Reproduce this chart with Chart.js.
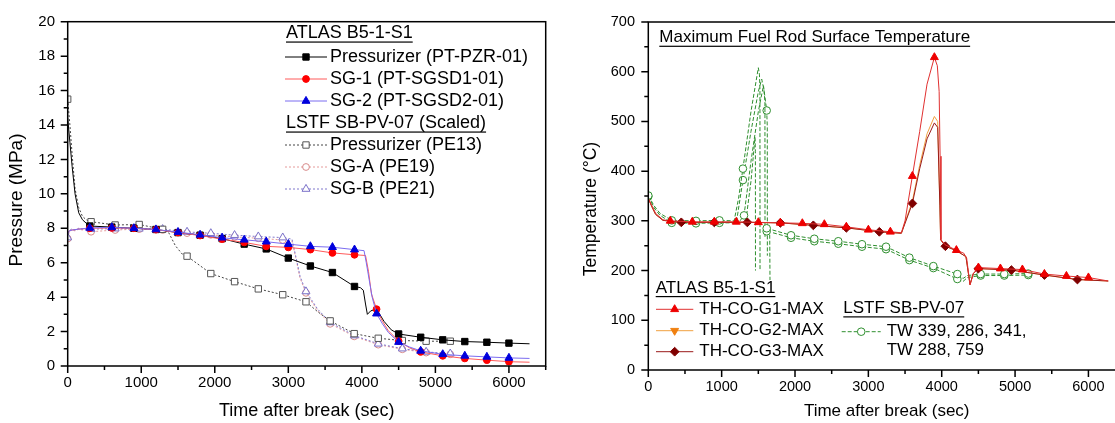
<!DOCTYPE html>
<html>
<head>
<meta charset="utf-8">
<script src="https://cdn.jsdelivr.net/npm/chart.js@4.4.1/dist/chart.umd.min.js"></script>
<style>
  html, body { margin: 0; padding: 0; background: #fff; overflow: hidden; width: 1115px; height: 423px; }
  #pressChart { position: absolute; left: 0; top: 0; }
  #tempChart { position: absolute; left: 560px; top: 0; }
</style>
</head>
<body>
<canvas id="pressChart" width="560" height="423"></canvas>
<canvas id="tempChart" width="600" height="423"></canvas>
<script>
// ---- left panel: pressure (MPa) vs time (s) ----
const pzrAtlasT = [0, 30, 60, 100, 150, 200, 250, 300, 600, 900, 1200, 1500, 1800, 2100, 2400, 2700, 3000, 3300, 3600, 3900, 3980, 4020, 4050, 4075, 4120, 4200, 4300, 4400, 4500, 4800, 5100, 5400, 5700, 6000, 6280];
const pzrAtlasP = [14.4, 13.0, 11.6, 10.0, 8.9, 8.5, 8.3, 8.13, 8.07, 8.0, 7.93, 7.75, 7.6, 7.4, 7.08, 6.8, 6.27, 5.81, 5.43, 4.62, 4.55, 4.4, 3.6, 3.0, 3.2, 3.32, 2.6, 2.1, 1.86, 1.67, 1.52, 1.42, 1.38, 1.33, 1.29];
const pzrAtlasMarks = [300, 600, 900, 1200, 1500, 1800, 2100, 2400, 2700, 3000, 3300, 3600, 3900, 4500, 4800, 5100, 5400, 5700, 6000];

const sg1T = [0, 20, 60, 150, 300, 600, 900, 1200, 1500, 1800, 2100, 2400, 2700, 3000, 3300, 3600, 3900, 4050, 4090, 4130, 4200, 4280, 4360, 4500, 4650, 4800, 5100, 5400, 5700, 6000, 6280];
const sg1P = [7.7, 7.85, 7.9, 7.95, 8.0, 8.02, 8.0, 7.92, 7.75, 7.58, 7.37, 7.18, 6.95, 6.89, 6.76, 6.57, 6.46, 6.42, 5.5, 4.2, 3.3, 2.6, 2.05, 1.45, 1.05, 0.82, 0.59, 0.44, 0.34, 0.25, 0.22];
const sg1Marks = [300, 600, 900, 1200, 1500, 1800, 2100, 2400, 2700, 3000, 3300, 3600, 3900, 4200, 4500, 4800, 5100, 5400, 5700, 6000];

const sg2T = [0, 20, 60, 150, 300, 600, 900, 1200, 1500, 1800, 2100, 2400, 2700, 3000, 3300, 3600, 3900, 4030, 4060, 4100, 4140, 4200, 4280, 4360, 4500, 4650, 4800, 5100, 5400, 5700, 6000, 6280];
const sg2P = [7.7, 7.85, 7.9, 7.95, 8.02, 8.05, 8.0, 7.93, 7.78, 7.62, 7.45, 7.33, 7.22, 7.08, 6.95, 6.9, 6.76, 6.7, 6.0, 5.0, 4.0, 3.04, 2.45, 1.95, 1.39, 1.1, 0.88, 0.68, 0.59, 0.53, 0.47, 0.44];
const sg2Marks = sg1Marks;

const pe13T = [0, 30, 60, 100, 150, 200, 250, 318, 645, 972, 1291, 1373, 1464, 1555, 1623, 1946, 2269, 2592, 2924, 3240, 3400, 3569, 3896, 4223, 4550, 4874, 5202, 5250];
const pe13P = [15.5, 14.0, 12.3, 10.3, 9.2, 8.7, 8.5, 8.38, 8.19, 8.22, 7.94, 7.75, 6.99, 6.51, 6.38, 5.37, 4.9, 4.48, 4.14, 3.73, 3.15, 2.62, 1.88, 1.61, 1.48, 1.44, 1.44, 1.43];
const lstfMarks = [0, 318, 645, 972, 1291, 1623, 1946, 2269, 2592, 2924, 3240, 3569, 3896, 4223, 4550, 4874, 5202];

const sgABT = [0, 20, 50, 100, 150, 200, 250, 318, 645, 972, 1291, 1623, 1946, 2269, 2592, 2924, 3050, 3100, 3160, 3240, 3400, 3569, 3896, 4223, 4550, 4874, 5202, 5250];
const sgAP = [7.4, 7.8, 7.9, 7.85, 7.95, 7.9, 7.95, 7.8, 7.9, 7.95, 7.9, 7.72, 7.62, 7.5, 7.42, 7.32, 7.26, 6.3, 5.1, 4.25, 3.2, 2.45, 1.72, 1.24, 0.97, 0.78, 0.68, 0.67];
const sgBP = [7.46, 7.85, 7.95, 7.9, 8.0, 7.95, 8.0, 7.95, 7.98, 7.97, 7.95, 7.79, 7.71, 7.6, 7.52, 7.46, 7.37, 6.4, 5.2, 4.33, 3.3, 2.53, 1.77, 1.29, 1.01, 0.82, 0.72, 0.71];

// ---- right panel: temperature (C) vs time (s) ----
const g1T = [0, 50, 100, 200, 300, 600, 900, 1200, 1500, 1800, 2100, 2400, 2700, 3000, 3300, 3450, 3500, 3600, 3700, 3800, 3900, 3940, 3965, 3978, 3990, 4045, 4200, 4300, 4340, 4386, 4431, 4500, 4800, 5100, 5400, 5700, 6000, 6270];
const g1V = [345, 330, 315, 302, 300, 298, 298, 298, 297, 296, 295, 293, 288, 282, 278, 276, 300, 390, 480, 575, 629, 612, 560, 430, 262, 252, 241, 235, 225, 171, 194, 206, 204, 202, 193, 189, 186, 179];
const g1Marks = [300, 600, 900, 1200, 1500, 1800, 2100, 2400, 2700, 3000, 3300, 3600, 3900, 4200, 4500, 4800, 5100, 5400, 5700, 6000];

const g3T = [0, 50, 100, 200, 450, 900, 1350, 1800, 2250, 2700, 3150, 3450, 3600, 3700, 3800, 3900, 3945, 3975, 3985, 4050, 4200, 4330, 4386, 4430, 4500, 4950, 5400, 5850, 6270];
const g2V = [345, 328, 313, 301, 297, 297, 297, 296, 291, 286, 278, 275, 340, 412, 475, 510, 500, 330, 262, 249, 240, 228, 172, 194, 204, 201, 191, 182, 179];
const g3V = [345, 328, 313, 301, 297, 297, 297, 296, 291, 286, 278, 275, 335, 405, 465, 497, 488, 330, 262, 249, 240, 228, 172, 194, 204, 201, 191, 182, 179];
const g3Marks = [450, 900, 1350, 1800, 2250, 2700, 3150, 3600, 4050, 4500, 4950, 5400, 5850];

const twAT = [0, 80, 160, 320, 650, 970, 1170, 1230, 1290, 1400, 1500, 1515, 1522, 1523, 1560, 1614, 1946, 2263, 2590, 2913, 3241, 3559, 3886, 4213, 4290, 4350, 4531, 4853, 5180, 5230];
const twAV = [351, 330, 315, 301, 300, 301, 300, 345, 405, 520, 608, 595, 565, 200, null, 285, 271, 264, 259, 253, 248, 226, 209, 193, 184, 190, 193, 193, 194, 193];
const twBT = [0, 80, 160, 320, 650, 970, 1200, 1290, 1400, 1500, 1546, 1575, 1590, 1591, 1600, 1614, 1655, 1659, 1660, 1700, 1946, 2263, 2590, 2913, 3241, 3559, 3886, 4213, 4290, 4350, 4531, 4853, 5180, 5230];
const twBV = [349, 326, 311, 296, 295, 296, 296, 382, 480, 560, 585, 565, 540, 268, null, 279, 278, 181, null, 276, 266, 259, 254, 248, 243, 221, 205, 183, 178, 186, 190, 190, 191, 190];
const twCT = [1250, 1305, 1400, 1500, 1570, 1614, 1622, 1623];
const twCV = [300, 311, 420, 520, 572, 522, 490, 230];
const twDT = [1330, 1400, 1455, 1460, 1461];
const twDV = [300, 380, 468, 440, 200];
const twMarks = [0, 320, 650, 970, 1290, 1305, 1614, 1946, 2263, 2590, 2913, 3241, 3559, 3886, 4213, 4531, 4853, 5180];

const FONT = "'Liberation Sans', Arial, sans-serif";
Chart.defaults.font.family = FONT;
Chart.defaults.color = '#000';
Chart.defaults.animation = false;

function series(t, v) {
    return t.map((x, i) => ({ x: x, y: v[i] }));
}
function marks(list, r) {
    return c => (c.raw && list.indexOf(c.raw.x) >= 0) ? r : 0;
}

function marker(ctx, style, x, y, r, rot) {
    ctx.beginPath();
    if (style === 'rect') {
        const s = Math.SQRT1_2 * r;
        ctx.rect(x - s, y - s, 2 * s, 2 * s);
    } else if (style === 'circle') {
        ctx.arc(x, y, r, 0, Math.PI * 2);
    } else if (style === 'triangle') {
        const a0 = (rot || 0) * Math.PI / 180;
        for (let k = 0; k < 3; k++) {
            const a = a0 + k * 2 * Math.PI / 3;
            const px = x + Math.sin(a) * r, py = y - Math.cos(a) * r;
            if (k === 0) ctx.moveTo(px, py); else ctx.lineTo(px, py);
        }
        ctx.closePath();
    } else if (style === 'rectRot') {
        ctx.moveTo(x, y - r); ctx.lineTo(x + r, y); ctx.lineTo(x, y + r); ctx.lineTo(x - r, y);
        ctx.closePath();
    }
    ctx.fill();
    ctx.stroke();
}

// box round the plot, with major and minor tick marks pointing out
const frame = {
    id: 'frame',
    afterDatasetsDraw(chart, args, o) {
        const { ctx, chartArea: a, scales } = chart;
        ctx.save();
        ctx.strokeStyle = '#000';
        ctx.lineWidth = 1.5;
        ctx.strokeRect(a.left, a.top, a.right - a.left, a.bottom - a.top);
        ctx.beginPath();
        scales.x.ticks.forEach(t => {
            const px = scales.x.getPixelForValue(t.value);
            const len = t.value % o.xMajor === 0 ? 7 : 4;
            ctx.moveTo(px, a.bottom); ctx.lineTo(px, a.bottom + len);
        });
        scales.y.ticks.forEach(t => {
            const py = scales.y.getPixelForValue(t.value);
            const len = t.value % o.yMajor === 0 ? 7 : 4;
            ctx.moveTo(a.left, py); ctx.lineTo(a.left - len, py);
        });
        ctx.stroke();
        ctx.restore();
    }
};

// Origin style legend: underlined group headers, line + marker samples
const notes = {
    id: 'notes',
    afterDraw(chart, args, o) {
        const ctx = chart.ctx;
        ctx.save();
        ctx.textBaseline = 'middle';
        o.items.forEach(it => {
            ctx.font = (it.size || o.size) + 'px ' + FONT;
            if (it.ds !== undefined) {
                const ds = chart.data.datasets[it.ds];
                ctx.strokeStyle = ds.borderColor;
                ctx.lineWidth = 1;
                ctx.setLineDash(ds.borderDash || []);
                ctx.beginPath();
                ctx.moveTo(it.x0, it.y); ctx.lineTo(it.x1, it.y);
                ctx.stroke();
                ctx.setLineDash([]);
                ctx.fillStyle = ds.pointBackgroundColor;
                ctx.strokeStyle = ds.pointBorderColor;
                marker(ctx, ds.pointStyle, (it.x0 + it.x1) / 2, it.y, it.r, ds.pointRotation);
            }
            ctx.fillStyle = '#000';
            if (it.vertical) {
                ctx.save();
                ctx.translate(it.tx, it.y);
                ctx.rotate(-Math.PI / 2);
                ctx.textAlign = 'center';
                ctx.fillText(it.text, 0, 0);
                ctx.restore();
            } else if (it.text) {
                ctx.fillText(it.text, it.tx, it.y);
                if (it.underline) {
                    const w = ctx.measureText(it.text).width;
                    ctx.fillRect(it.tx, it.y + (it.size || o.size) * 0.47, w, 1.2);
                }
            }
        });
        ctx.restore();
    }
};

function lineSet(label, t, v, opt) {
    return Object.assign({
        label: label,
        data: series(t, v),
        borderWidth: 1,
        tension: 0,
        pointBorderWidth: 1,
        pointHoverRadius: 0
    }, opt);
}

new Chart(document.getElementById('pressChart').getContext('2d'), {
    type: 'line',
    data: {
        datasets: [
            lineSet('Pressurizer (PT-PZR-01)', pzrAtlasT, pzrAtlasP, { borderColor: '#000', pointStyle: 'rect', pointBackgroundColor: '#000', pointBorderColor: '#000', pointRadius: marks(pzrAtlasMarks, 4.5), order: 3 }),
            lineSet('SG-1 (PT-SGSD1-01)', sg1T, sg1P, { borderColor: '#ff5a5a', pointStyle: 'circle', pointBackgroundColor: '#ff0000', pointBorderColor: '#ff0000', pointRadius: marks(sg1Marks, 3.4), order: 2 }),
            lineSet('SG-2 (PT-SGSD2-01)', sg2T, sg2P, { borderColor: '#7b6cf0', pointStyle: 'triangle', pointBackgroundColor: '#0000dd', pointBorderColor: '#0000dd', pointRadius: marks(sg2Marks, 4.6), order: 1 }),
            lineSet('Pressurizer (PE13)', pe13T, pe13P, { borderColor: '#444', borderDash: [2, 2], pointStyle: 'rect', pointBackgroundColor: '#fff', pointBorderColor: '#555', pointRadius: marks(lstfMarks, 4.5), order: 4 }),
            lineSet('SG-A (PE19)', sgABT, sgAP, { borderColor: '#e59a9a', borderDash: [2, 2], pointStyle: 'circle', pointBackgroundColor: '#fff', pointBorderColor: '#d88c8c', pointRadius: marks(lstfMarks, 3.4), order: 6 }),
            lineSet('SG-B (PE21)', sgABT, sgBP, { borderColor: '#7f76cc', borderDash: [2, 2], pointStyle: 'triangle', pointBackgroundColor: '#fff', pointBorderColor: '#7a70c8', pointRadius: marks(lstfMarks, 4.6), order: 5 })
        ]
    },
    options: {
        responsive: false,
        devicePixelRatio: 1,
        events: [],
        layout: { padding: { top: 15, right: 14.3, left: 0, bottom: 0 } },
        scales: {
            x: {
                type: 'linear', min: 0, max: 6500,
                afterFit: s => { s.height = 57; },
                grid: { display: false, drawTicks: false },
                border: { display: false },
                ticks: { stepSize: 500, autoSkip: false, maxRotation: 0, padding: 8, font: { size: 15 }, color: '#000',
                    callback: v => v % 1000 === 0 ? String(v) : '' },
                title: { display: true, text: 'Time after break (sec)', font: { size: 18 }, color: '#000', padding: { top: 0, bottom: 1 } }
            },
            y: {
                type: 'linear', min: 0, max: 20,
                afterFit: s => { s.width = 67.7; },
                grid: { display: false, drawTicks: false },
                border: { display: false },
                ticks: { stepSize: 1, autoSkip: false, padding: 12.7, font: { size: 15 }, color: '#000',
                    callback: v => v % 2 === 0 ? String(v) : '' },
                title: { display: false }
            }
        },
        plugins: {
            legend: { display: false },
            tooltip: { enabled: false },
            frame: { xMajor: 1000, yMajor: 2 },
            notes: {
                size: 18,
                items: [
                    { text: 'Pressure (MPa)', tx: 17, y: 200, vertical: true, size: 19 },
                    { text: 'ATLAS B5-1-S1', tx: 286, y: 33, underline: true },
                    { ds: 0, x0: 285, x1: 327, r: 4.5, text: 'Pressurizer (PT-PZR-01)', tx: 330, y: 57 },
                    { ds: 1, x0: 285, x1: 327, r: 3.4, text: 'SG-1 (PT-SGSD1-01)', tx: 330, y: 79 },
                    { ds: 2, x0: 285, x1: 327, r: 4.6, text: 'SG-2 (PT-SGSD2-01)', tx: 330, y: 101 },
                    { text: 'LSTF SB-PV-07 (Scaled)', tx: 286, y: 123, underline: true },
                    { ds: 3, x0: 285, x1: 327, r: 4.5, text: 'Pressurizer (PE13)', tx: 330, y: 145 },
                    { ds: 4, x0: 285, x1: 327, r: 3.4, text: 'SG-A (PE19)', tx: 330, y: 167 },
                    { ds: 5, x0: 285, x1: 327, r: 4.6, text: 'SG-B (PE21)', tx: 330, y: 189 }
                ]
            }
        }
    },
    plugins: [frame, notes]
});

const green = '#2f8f2f';
function twSet(label, t, v, r, order) {
    return lineSet(label, t, v, { borderColor: green, borderDash: [4, 2], pointStyle: 'circle', pointBackgroundColor: '#fff', pointBorderColor: green, pointRadius: r, order: order });
}

new Chart(document.getElementById('tempChart').getContext('2d'), {
    type: 'line',
    data: {
        datasets: [
            lineSet('TH-CO-G1-MAX', g1T, g1V, { borderColor: '#e03030', pointStyle: 'triangle', pointBackgroundColor: '#ee0000', pointBorderColor: '#ee0000', pointRadius: marks(g1Marks, 4.6), order: 1 }),
            lineSet('TH-CO-G2-MAX', g3T, g2V, { borderColor: '#f0a040', pointStyle: 'triangle', pointRotation: 180, pointBackgroundColor: '#f08010', pointBorderColor: '#f08010', pointRadius: 0, order: 3 }),
            lineSet('TH-CO-G3-MAX', g3T, g3V, { borderColor: '#9a1a1a', pointStyle: 'rectRot', pointBackgroundColor: '#800000', pointBorderColor: '#800000', pointRadius: marks(g3Marks, 4.4), order: 2 }),
            twSet('TW 339', twAT, twAV, marks(twMarks, 3.8), 4),
            twSet('TW 286', twBT, twBV, marks(twMarks, 3.8), 5),
            twSet('TW 341', twCT, twCV, marks(twMarks, 3.8), 6),
            twSet('TW 288', twDT, twDV, 0, 7)
        ]
    },
    options: {
        responsive: false,
        devicePixelRatio: 1,
        events: [],
        layout: { padding: { top: 21, right: 34.9, left: 0, bottom: 0 } },
        scales: {
            x: {
                type: 'linear', min: 0, max: 6500,
                afterFit: s => { s.height = 53; },
                grid: { display: false, drawTicks: false },
                border: { display: false },
                ticks: { stepSize: 500, autoSkip: false, maxRotation: 0, padding: 8, font: { size: 14.5 }, color: '#000',
                    callback: v => v % 1000 === 0 ? String(v) : '' },
                title: { display: true, text: 'Time after break (sec)', font: { size: 17 }, color: '#000', padding: { top: 0, bottom: 1.5 } }
            },
            y: {
                type: 'linear', min: 0, max: 700,
                afterFit: s => { s.width = 88.3; },
                grid: { display: false, drawTicks: false },
                border: { display: false },
                ticks: { stepSize: 50, autoSkip: false, padding: 13.3, font: { size: 14.5 }, color: '#000',
                    callback: v => v % 100 === 0 ? String(v) : '' },
                title: { display: false }
            }
        },
        plugins: {
            legend: { display: false },
            tooltip: { enabled: false },
            frame: { xMajor: 1000, yMajor: 100 },
            notes: {
                size: 17,
                items: [
                    { text: 'Temperature (\u00B0C)', tx: 31, y: 209, vertical: true, size: 17.5 },
                    { text: 'Maximum Fuel Rod Surface Temperature', tx: 99.3, y: 37.7, underline: true },
                    { text: 'ATLAS B5-1-S1', tx: 95.7, y: 288, underline: true },
                    { ds: 0, x0: 96, x1: 133.3, r: 4.6, text: 'TH-CO-G1-MAX', tx: 139.3, y: 309.3 },
                    { ds: 1, x0: 96, x1: 133.3, r: 4.6, text: 'TH-CO-G2-MAX', tx: 139.3, y: 330.7 },
                    { ds: 2, x0: 96, x1: 133.3, r: 4.4, text: 'TH-CO-G3-MAX', tx: 139.3, y: 351.7 },
                    { text: 'LSTF SB-PV-07', tx: 283.3, y: 308.3, underline: true },
                    { ds: 3, x0: 281.7, x1: 320.7, r: 3.8, text: 'TW 339, 286, 341,', tx: 326.7, y: 331.7 },
                    { text: 'TW 288, 759', tx: 326.7, y: 350.7 }
                ]
            }
        }
    },
    plugins: [frame, notes]
});
</script>
</body>
</html>
